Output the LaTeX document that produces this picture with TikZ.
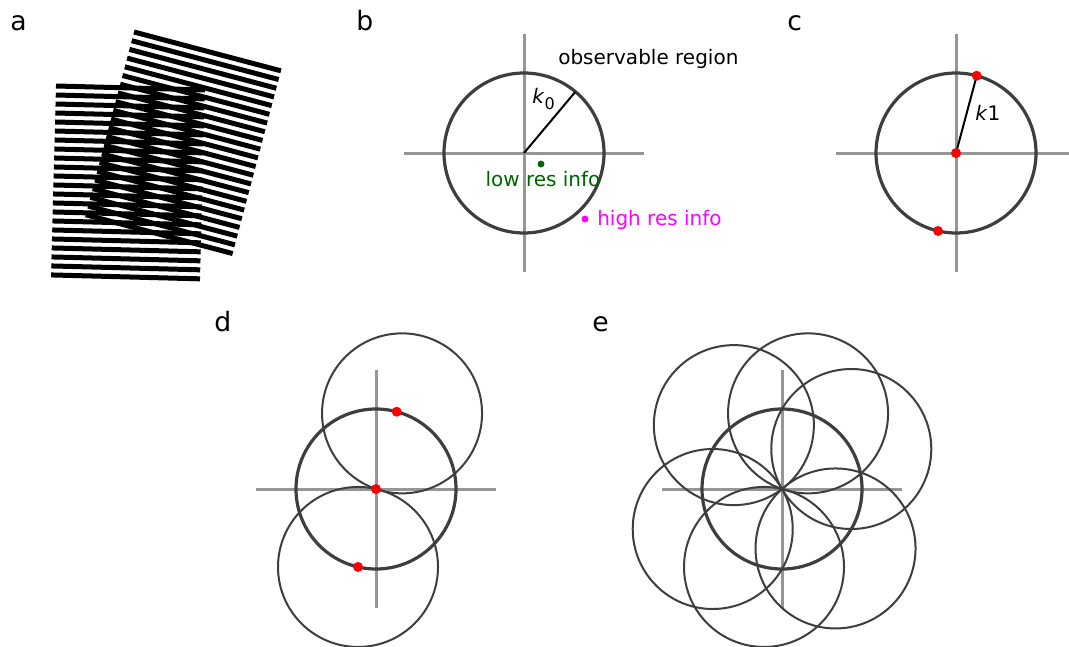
\documentclass[tikz,border=0pt]{standalone}
\usepackage{fontspec}
\setmainfont{DejaVu Sans}
\definecolor{circgray}{RGB}{62,62,62}
\definecolor{axisgray}{RGB}{150,150,150}
\definecolor{dgreen}{RGB}{0,100,0}
\definecolor{mag}{RGB}{255,0,255}
\tikzset{
  stripe/.style={line width=3.75pt, line cap=butt, black},
  axisline/.style={line width=2.25pt, draw=axisgray},
  maincirc/.style={line width=2.4pt, draw=circgray},
  outcirc/.style={line width=1.5pt, draw=circgray},
  rline/.style={line width=1.5pt, black},
  dot/.style={circle, inner sep=0pt, minimum size=7.5pt},
  smalldot/.style={circle, inner sep=0pt, minimum size=5.2pt},
  lbl/.style={font=\fontsize{20pt}{24pt}\selectfont, inner sep=0pt, anchor=base west},
  txt/.style={font=\fontsize{15pt}{18pt}\selectfont, inner sep=0pt},
  cross/.pic={
    \draw[axisline] (-120,0) -- (120,0);
    \draw[axisline] (0,-119) -- (0,119);
  }
}
\begin{document}
\begin{tikzpicture}[x=0.75pt,y=-0.75pt]
\path[use as bounding box] (0,0) rectangle (1069,646);

% panel labels
\node[lbl] (la) at (10,31) {a};
\node[lbl] (lb) at (356,31) {b};
\node[lbl] (lc) at (787,31) {c};
\node[lbl] (ld) at (214,331) {d};
\node[lbl] (le) at (592,331) {e};

% ---------- panel a : two gratings ----------
\foreach \i in {0,...,21}{
  \draw[stripe] ({56-\i*9*sin(1.5)},{86+\i*9*cos(1.5)}) -- ++({149*cos(1.5)},{149*sin(1.5)});
}
\foreach \i in {0,...,21}{
  \draw[stripe] ({134-\i*9*sin(14.8)},{32+\i*9*cos(14.8)}) -- ++({152*cos(14.8)},{152*sin(14.8)});
}

% ---------- panel b ----------
\coordinate (bO) at (524,153);
\pic at (bO) {cross};
\draw[maincirc] (bO) circle[radius=80];
\path (bO) ++(-50:80) coordinate (bK);
\draw[rline] (bO) -- (bK);
\node[txt, anchor=base west] (k0) at (532,103) {\textit{k}\raisebox{-0.3em}{\fontsize{12pt}{13pt}\selectfont 0}};
\node[txt, anchor=base west] (obs) at (558,64) {observable region};
\node[smalldot, fill=dgreen] (gdot) at (541,164) {};
\node[txt, anchor=base, text=dgreen] (low) at (543,186) {low res info};
\node[smalldot, fill=mag] (mdot) at (585,219) {};
\node[txt, anchor=base west, text=mag] (high) at (597,225) {high res info};

% ---------- panel c ----------
\coordinate (cO) at (956,153);
\pic at (cO) {cross};
\draw[maincirc] (cO) circle[radius=80];
\path (cO) ++(-75:80) coordinate (cK);
\path (cO) ++(-257:80) coordinate (cM);
\draw[rline] (cO) -- (cK);
\node[txt, anchor=base west] (k1) at (975,120) {\textit{k}1};
\node[dot, fill=red] (c1) at (cK) {};
\node[dot, fill=red] (c0) at (cO) {};
\node[dot, fill=red] (c2) at (cM) {};

% ---------- panel d ----------
\coordinate (dO) at (376,489);
\pic at (dO) {cross};
\path (dO) ++(-71:80) coordinate (dA);
\path (dO) ++(-257:80) coordinate (dB);
\path (dO) ++(-75:80) coordinate (dK);
\draw[outcirc] (dA) circle[radius=80];
\draw[outcirc] (dB) circle[radius=80];
\draw[maincirc] (dO) circle[radius=80];
\node[dot, fill=red] (d1) at (dK) {};
\node[dot, fill=red] (d0) at (dO) {};
\node[dot, fill=red] (d2) at (dB) {};

% ---------- panel e ----------
\coordinate (eO) at (782,489);
\pic at (eO) {cross};
\foreach \a in {30,71,127,210,257,312}{
  \path (eO) ++(-\a:80) coordinate (eC\a);
  \draw[outcirc] (eC\a) circle[radius=80];
}
\draw[maincirc] (eO) circle[radius=80];
\end{tikzpicture}
\end{document}
